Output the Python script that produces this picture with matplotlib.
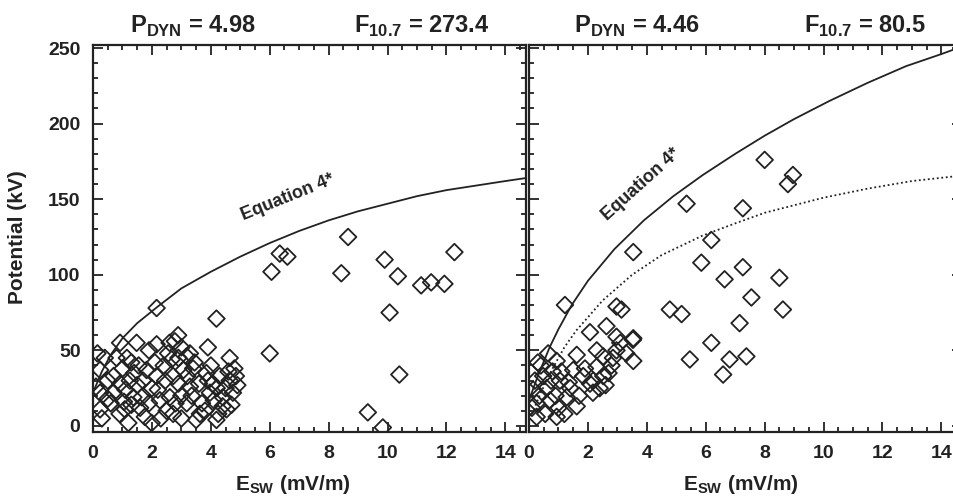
import matplotlib
matplotlib.use("Agg")
import matplotlib.pyplot as plt
from matplotlib.ticker import MultipleLocator

plt.rcParams['font.family'] = ['Liberation Sans', 'DejaVu Sans']
plt.rcParams['font.weight'] = 'bold'
plt.rcParams['mathtext.fontset'] = 'custom'
plt.rcParams['mathtext.rm'] = 'Liberation Sans:bold'
plt.rcParams['mathtext.bf'] = 'Liberation Sans:bold'

INK = "#222222"

# Left panel: P_dyn = 4.98, F10.7 = 273.4
left_esw = [2.16, 0.92, 1.48, 2.16, 2.89, 2.78, 4.19, 3.9, 6.06, 6.34, 6.6, 6.0, 4.64, 3.29,
            8.66, 8.43, 9.9, 10.35, 10.07, 11.14, 11.48, 11.93, 12.27, 10.4, 9.33, 9.84,
            0.24, 0.24, 0.24, 0.8, 0.92, 0.7, 1.25, 1.37, 1.08, 1.2, 1.82, 1.65, 1.76, 2.16,
            2.27, 1.99, 2.67, 2.72, 2.61, 2.72, 3.18, 3.07, 3.29, 3.18, 3.63, 3.85, 3.97, 4.07,
            4.3, 4.41, 4.64, 4.75, 4.53, 4.19, 3.5,
            0.5, 0.6, 1.0, 1.1, 1.3, 1.5, 1.6, 2.0, 2.4, 2.5, 2.9, 3.0, 3.4, 3.7, 4.2, 4.9,
            4.8, 0.4, 1.05, 2.3, 0.1, 1.4, 2.9, 3.9, 4.4, 4.6,
            0.3, 0.5, 0.7, 0.9, 1.15, 1.3, 1.55, 1.7, 1.9, 2.1, 2.2, 2.45, 2.55, 2.8, 3.0,
            3.2, 3.35, 3.45, 3.6, 3.8, 4.0, 4.1, 4.25, 4.5, 4.7, 4.85, 0.15, 1.9, 2.6, 3.0]
left_pot = [78, 55, 55, 54, 60, 56, 71, 52, 102, 114, 112, 48, 45, 48,
            125, 101, 110, 99, 75, 93, 95, 94, 115, 34, 9, -1,
            37, 22, 11, 45, 28, 22, 30, 19, 11, 2, 37, 19, 6, 33,
            17, 2, 44, 33, 19, 8, 46, 37, 26, 15, 8, 35, 22, 28,
            33, 19, 30, 22, 11, 4, 4,
            30, 15, 38, 24, 42, 27, 12, 25, 40, 10, 28, 20, 38, 15, 25, 27,
            38, 45, 16, 5, 26, 35, 45, 30, 13, 36,
            5, 18, 33, 8, 45, 14, 40, 30, 15, 42, 24, 30, 48, 15, 5,
            33, 20, 42, 28, 10, 40, 17, 8, 25, 14, 33, 48, 50, 55, 52]

# Right panel: P_dyn = 4.46, F10.7 = 80.5
right_esw = [8.0, 8.96, 8.79, 5.35, 7.26, 3.54, 6.19, 5.85, 7.26, 6.64, 8.5, 7.55, 8.62, 7.15,
             1.22, 2.97, 3.14, 4.78, 5.18, 2.07, 2.63, 2.97, 3.54, 6.19, 5.46, 6.81, 7.38, 6.59,
             3.54, 1.62, 0.94, 3.53, 2.17, 1.62, 0.94, 0.26, 0.14, 0.48, 1.05, 1.28, 0.71, 0.26,
             1.84, 2.29, 2.52, 2.7, 2.18, 2.97, 2.52, 2.07,
             0.4, 0.6, 1.0, 1.4, 2.4, 2.8, 3.1, 0.2, 0.8, 1.5, 2.3, 3.3,
             0.1, 0.35, 0.55, 0.75, 0.9, 1.1, 1.2, 1.35, 1.7, 1.9, 2.6, 2.85, 0.3, 0.65]
right_pot = [176, 166, 160, 147, 144, 115, 123, 108, 105, 97, 98, 85, 77, 68,
             80, 79, 77, 77, 74, 62, 66, 59, 58, 55, 44, 44, 46, 34,
             43, 47, 43, 57, 22, 13, 6, 6, 24, 33, 30, 19, 17, 15,
             33, 39, 33, 35, 30, 50, 46, 28,
             40, 25, 12, 25, 25, 40, 55, 30, 36, 37, 50, 48,
             12, 20, 8, 30, 20, 36, 8, 29, 20, 38, 27, 45, 42, 48]

# Equation 4* curves
eq_left_esw = [0.0, 0.3, 0.6, 1.0, 1.5, 2.2, 3.0, 4.0, 5.0, 6.0, 7.0, 8.0, 9.0, 10.0, 11.0, 12.0, 13.0, 14.0, 14.7]
eq_left_pot = [22, 36, 47, 58, 68, 79, 91, 102, 112, 121, 129, 136, 142, 147, 152, 156, 159, 162, 164]

eq_right_esw = [0.0, 0.3, 0.7, 1.0, 1.45, 2.0, 2.9, 3.9, 4.9, 5.9, 7.0, 8.0, 9.0, 10.2, 11.5, 12.8, 14.0, 14.7]
eq_right_pot = [17, 33, 52, 64, 80, 96, 117, 136, 152, 166, 180, 192, 203, 215, 227, 238, 246, 251]

dot_right_esw = [0.1, 0.4, 0.8, 1.2, 1.6, 2.5, 3.5, 4.5, 5.9, 7.0, 8.0, 9.0, 10.0, 11.5, 13.0, 14.4]
dot_right_pot = [8, 22, 38, 52, 63, 83, 100, 113, 126, 134, 141, 146, 151, 157, 162, 165]

fig = plt.figure(figsize=(9.54, 4.96), dpi=100)
ax1 = fig.add_axes([93 / 954, 1 - 432 / 496, 433 / 954, 387 / 496])
ax2 = fig.add_axes([529 / 954, 1 - 432 / 496, 433 / 954, 387 / 496])

for ax in (ax1, ax2):
    ax.set_xlim(0, 14.7)
    ax.set_ylim(-4, 252)
    ax.xaxis.set_major_locator(MultipleLocator(2))
    ax.xaxis.set_minor_locator(MultipleLocator(0.5))
    ax.yaxis.set_major_locator(MultipleLocator(50))
    ax.yaxis.set_minor_locator(MultipleLocator(10))
    ax.tick_params(which='both', direction='in', top=True, right=True, color=INK, width=1.3)
    ax.tick_params(which='major', length=7, labelsize=14, pad=9, labelcolor=INK)
    ax.tick_params(which='minor', length=3.5)
    for sp in ax.spines.values():
        sp.set_linewidth(1.6)
        sp.set_color(INK)
    for lab in ax.get_xticklabels() + ax.get_yticklabels():
        lab.set_fontweight('bold')

ax2.tick_params(labelleft=False)

ax1.scatter(left_esw, left_pot, marker='D', s=72, facecolors='none', edgecolors=INK, linewidths=1.3)
ax1.plot(eq_left_esw, eq_left_pot, color=INK, lw=1.3)
ax1.text(6.6, 151, "Equation 4*", rotation=22, ha='center', va='center', fontsize=13,
         fontweight='bold', color=INK, rotation_mode='anchor')

ax2.scatter(right_esw, right_pot, marker='D', s=72, facecolors='none', edgecolors=INK, linewidths=1.3)
ax2.plot(eq_right_esw, eq_right_pot, color=INK, lw=1.3)
ax2.plot(dot_right_esw, dot_right_pot, color=INK, lw=1.3, linestyle=(0, (1, 1.5)))
ax2.text(3.8, 160, "Equation 4*", rotation=42, ha='center', va='center', fontsize=13,
         fontweight='bold', color=INK, rotation_mode='anchor')

# panel headers
ty = 1 - 33 / 496
fig.text(193 / 954, ty, r'P$_{\mathbf{DYN}}$ = 4.98', ha='center', va='baseline', fontsize=17, fontweight='bold', color=INK)
fig.text(422 / 954, ty, r'F$_{\mathbf{10.7}}$ = 273.4', ha='center', va='baseline', fontsize=17, fontweight='bold', color=INK)
fig.text(637 / 954, ty, r'P$_{\mathbf{DYN}}$ = 4.46', ha='center', va='baseline', fontsize=17, fontweight='bold', color=INK)
fig.text(865 / 954, ty, r'F$_{\mathbf{10.7}}$ = 80.5', ha='center', va='baseline', fontsize=17, fontweight='bold', color=INK)

# axis labels
fig.text(18 / 954, 1 - 237 / 496, "Potential (kV)", rotation=90, ha='center', va='center', fontsize=15, fontweight='bold', color=INK)
fig.text(293 / 954, 1 - 490 / 496, r'E$_{\mathbf{SW}}$ (mV/m)', ha='center', va='baseline', fontsize=15, fontweight='bold', color=INK)
fig.text(741 / 954, 1 - 490 / 496, r'E$_{\mathbf{SW}}$ (mV/m)', ha='center', va='baseline', fontsize=15, fontweight='bold', color=INK)

fig.savefig("out.png", dpi=100)
